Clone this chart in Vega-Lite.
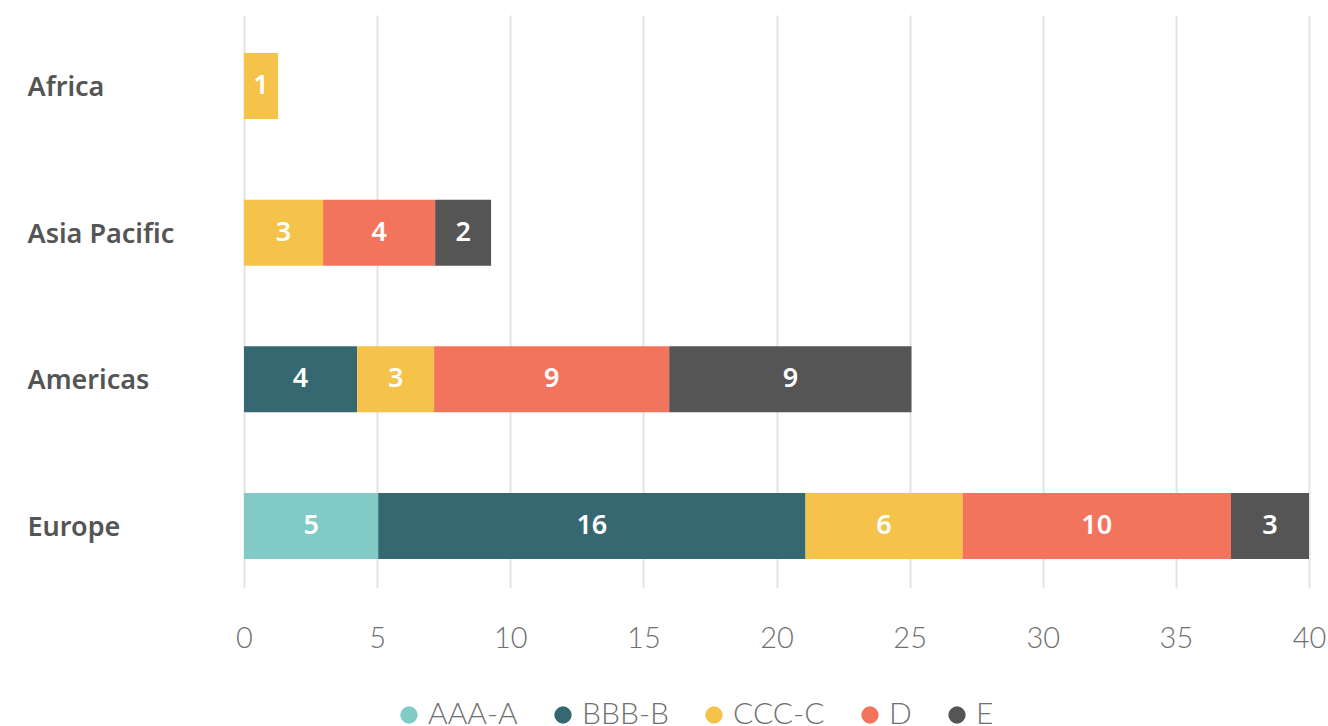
{
  "$schema": "https://vega.github.io/schema/vega-lite/v6.json",
  "width": 1065,
  "height": 573,
  "autosize": {"type": "none"},
  "padding": {"left": 244, "top": 15, "right": 19, "bottom": 138},
  "config": {"view": {"stroke": null}, "font": "Lato"},
  "data": {
    "values": [
      {"region": "Africa", "rating": "CCC-C", "value": 1.28},
      {"region": "Asia Pacific", "rating": "CCC-C", "value": 2.97},
      {"region": "Asia Pacific", "rating": "D", "value": 4.21},
      {"region": "Asia Pacific", "rating": "E", "value": 2.1},
      {"region": "Americas", "rating": "BBB-B", "value": 4.25},
      {"region": "Americas", "rating": "CCC-C", "value": 2.89},
      {"region": "Americas", "rating": "D", "value": 8.83},
      {"region": "Americas", "rating": "E", "value": 9.1},
      {"region": "Europe", "rating": "AAA-A", "value": 5.04},
      {"region": "Europe", "rating": "BBB-B", "value": 16.05},
      {"region": "Europe", "rating": "CCC-C", "value": 5.9},
      {"region": "Europe", "rating": "D", "value": 10.08},
      {"region": "Europe", "rating": "E", "value": 2.93}
    ]
  },
  "encoding": {
    "y": {
      "field": "region",
      "type": "nominal",
      "sort": ["Africa", "Asia Pacific", "Americas", "Europe"],
      "scale": {"paddingInner": 0.55, "paddingOuter": 0.228, "align": 0.567},
      "axis": {
        "title": null,
        "domain": false,
        "ticks": false,
        "grid": false,
        "labelAlign": "left",
        "labelPadding": 217,
        "labelFont": "Noto Sans",
        "labelFontWeight": 600,
        "labelFontSize": 27,
        "labelColor": "#555555",
        "labelOffset": 2
      }
    }
  },
  "layer": [
    {
      "mark": {"type": "bar"},
      "encoding": {
        "x": {
          "field": "value",
          "type": "quantitative",
          "stack": "zero",
          "scale": {"domain": [0, 40], "nice": false},
          "axis": {
            "title": null,
            "values": [0, 5, 10, 15, 20, 25, 30, 35, 40],
            "domain": false,
            "ticks": false,
            "grid": true,
            "gridColor": "#e3e3e3",
            "gridWidth": 2,
            "labelPadding": 36,
            "labelFont": "Lato",
            "labelFontWeight": 300,
            "labelFontSize": 29,
            "labelColor": "#707070",
            "labelFlush": false
          }
        },
        "color": {
          "field": "rating",
          "type": "nominal",
          "scale": {
            "domain": ["AAA-A", "BBB-B", "CCC-C", "D", "E"],
            "range": ["#82cac5", "#356870", "#f5c34a", "#f2745c", "#555555"]
          },
          "legend": {
            "title": null,
            "orient": "none",
            "legendX": 150,
            "legendY": 685,
            "direction": "horizontal",
            "symbolType": "circle",
            "symbolSize": 300,
            "symbolStrokeWidth": 0,
            "labelFont": "Lato",
            "labelFontWeight": 300,
            "labelFontSize": 30,
            "labelColor": "#707070",
            "labelOffset": 4,
            "columnPadding": 30
          }
        },
        "order": {"field": "rating"}
      }
    },
    {
      "mark": {"type": "text", "color": "white", "font": "Noto Sans", "fontWeight": 600, "fontSize": 27, "baseline": "middle"},
      "encoding": {
        "x": {"field": "value", "type": "quantitative", "stack": "zero", "bandPosition": 0.5},
        "detail": {"field": "rating"},
        "order": {"field": "rating"},
        "text": {"field": "value", "type": "quantitative", "format": ".0f"}
      }
    }
  ]
}
